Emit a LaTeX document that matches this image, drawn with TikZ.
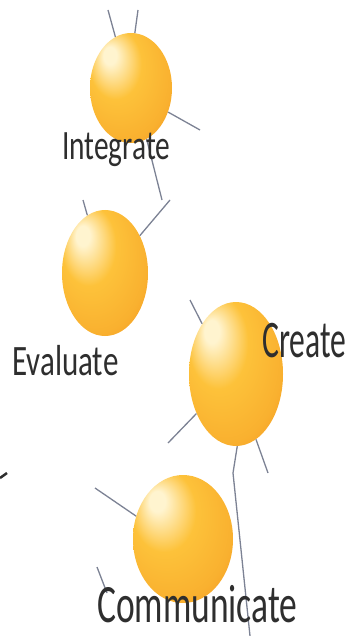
\documentclass[tikz,border=0pt]{standalone}
\usepackage{fontspec}
\setmainfont{Carlito}
\usepackage{tikz}
\usetikzlibrary{shapes.geometric}
\definecolor{hilite}{HTML}{FFF4CF}
\definecolor{gold}{HTML}{FDC23A}
\definecolor{rim}{HTML}{F2911C}
\definecolor{wire}{HTML}{7C8294}
\definecolor{ink}{HTML}{2E2E2E}
\pgfdeclareradialshading{eggshade}{\pgfpoint{-14bp}{16bp}}{color(0bp)=(hilite); color(4bp)=(hilite); color(16bp)=(gold); color(30bp)=(gold!65!rim); color(42bp)=(rim); color(50bp)=(rim)}
\newcommand{\ballword}[3]{\raisebox{0pt}[\height][0pt]{\scalebox{1}[#2]{\fontsize{#1}{#1}\selectfont #3}}}

\begin{document}
\begin{tikzpicture}[
 x=1pt,y=-1pt,
 ball/.style={ellipse,shading=eggshade,inner sep=0pt},
 wire/.style={draw=wire,line width=1.3pt},
 word/.style={text=ink,inner sep=0pt,anchor=base west}
]
\useasboundingbox (0,0) rectangle (354,636);
\coordinate (intA) at (108,10);
\coordinate (intB) at (138,10);
\coordinate (intC) at (200,130);
\coordinate (intD) at (162,200);
\coordinate (evaA) at (83,200);
\coordinate (evaB) at (170,200);
\coordinate (creA) at (190,300);
\coordinate (creB) at (168,443);
\coordinate (creC) at (233,473);
\coordinate (creD) at (250,636);
\coordinate (creE) at (268,473);
\coordinate (comA) at (95,488);
\coordinate (comB) at (97,567);
\coordinate (comC) at (107,593);
\coordinate (markA) at (0,478);
\coordinate (markB) at (7,473);
\draw[wire] (comB) -- (comC);
\draw[draw=ink,line width=2.5pt] (markA) -- (markB);
\node[ball,minimum width=82pt,minimum height=110pt] (integrate) at (131,88) {};
\node[ball,minimum width=86pt,minimum height=126pt] (evaluate) at (105,273) {};
\node[ball,minimum width=94pt,minimum height=144pt] (create) at (236,374) {};
\node[ball,minimum width=100pt,minimum height=128pt] (communicate) at (183,539) {};
\draw[wire] (integrate.107) -- (intA);
\draw[wire] (integrate.86) -- (intB);
\draw[wire] (integrate.-33) -- (intC);
\draw[wire] (integrate.-73) -- (intD);
\draw[wire] (evaluate.107) -- (evaA);
\draw[wire] (evaluate.47) -- (evaB);
\draw[wire] (create.124) -- (creA);
\draw[wire] (create.225) -- (creB);
\draw[wire] (create.-89) -- (creC) -- (creD);
\draw[wire] (create.-73) -- (creE);
\draw[wire] (communicate.154) -- (comA);
\node[word] (intlab) at (62,160) {\ballword{29.4}{1.42}{Integrate}};
\node[word] (evalab) at (12,375) {\ballword{31}{1.4}{Evaluate}};
\node[word] (crelab) at (262,357) {\ballword{31.6}{1.67}{Create}};
\node[word] (comlab) at (97,622) {\ballword{35.5}{1.52}{Communicate}};
\end{tikzpicture}
\end{document}
